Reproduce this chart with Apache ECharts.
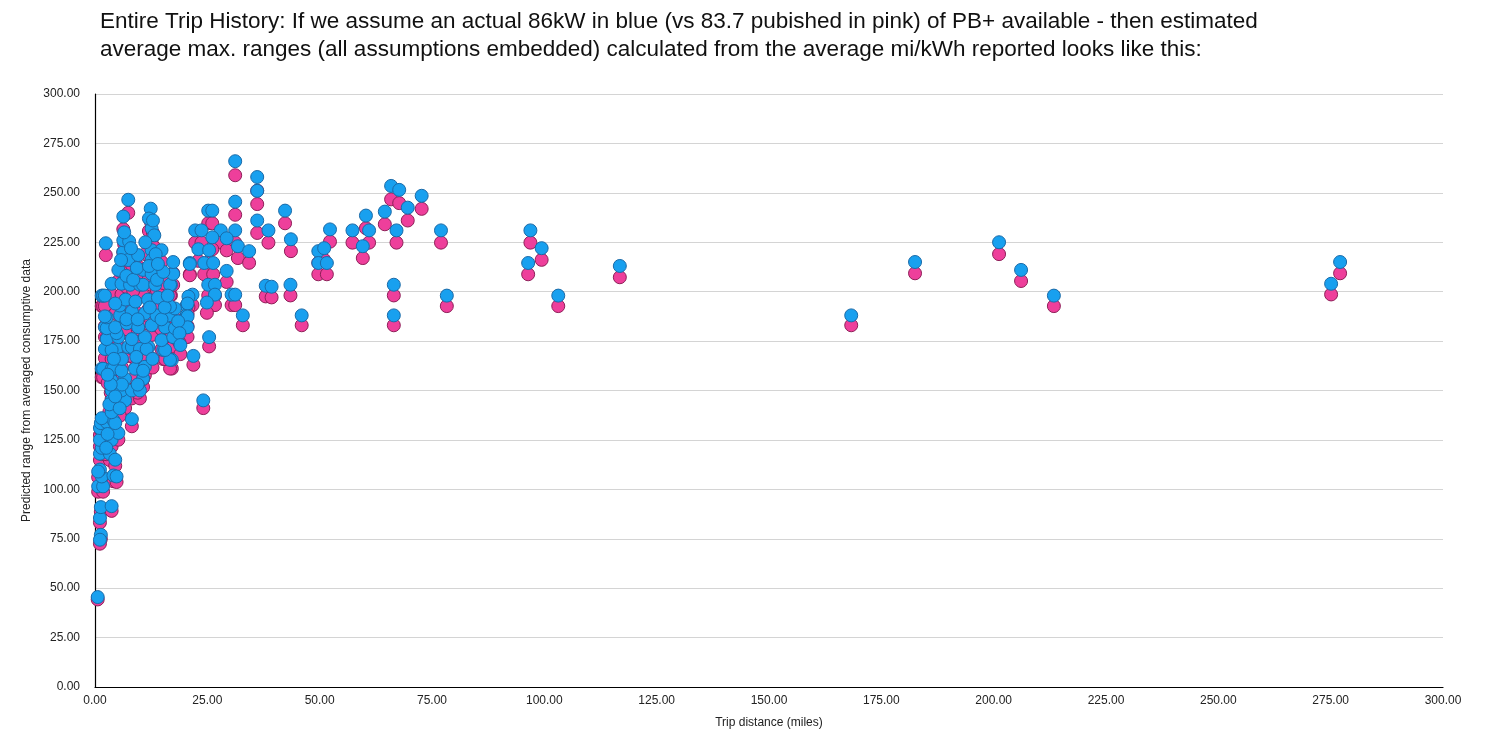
<!DOCTYPE html>
<html>
<head>
<meta charset="utf-8">
<script src="https://cdn.jsdelivr.net/npm/echarts@6/dist/echarts.min.js"></script>
<style>
html,body{margin:0;padding:0;background:#fff;}
#chart{width:1496px;height:742px;}
</style>
</head>
<body>
<div id="chart"></div>
<script>
const titleLines = [
  "Entire Trip History: If we assume an actual 86kW in blue (vs 83.7 pubished in pink) of PB+ available - then estimated",
  "average max. ranges (all assumptions embedded) calculated from the average mi/kWh reported looks like this:"
];
const xAxisName = "Trip distance (miles)";
const yAxisName = "Predicted range from averaged consumptive data";
const seriesNames = ["86kW (blue)", "83.7kW (pink)"];

const tripDistance = [
31.2,36.1,36.1,31.2,42.3,25.2,26.1,36.1,38.6,31.2,22.3,23.7,28,43.6,52.3,57.3,60.3,61,59.6,49.7,
51,49.7,51.6,26.1,29.3,31.8,34.3,23,25.4,21.1,24.3,26.3,29.3,38,39.3,43.5,21.7,25.2,26.7,26.7,
24.9,30.4,31.2,20.4,20.4,32.9,46,20.4,25.4,21.9,24.1,65.9,67.7,64.5,69.6,72.7,67.1,77,66.5,66.5,
78.3,96.9,99.4,96.4,103.1,116.8,168.3,182.5,201.2,206.1,213.4,275.1,277.1,
0.6,1.3,1.1,1.1,1.3,3.7,0.7,1.8,1.5,1.1,0.7,4.1,4.8,1.1,3.3,1.5,1.1,3.7,1.1,3.3,
1.3,2.6,4.1,1.5,5.2,4.5,8.2,3.7,3.7,6.7,3.7,5.9,8.2,10,3.7,6.7,10.7,1.5,1.8,3.7,
4.1,5.9,8.9,11.1,10.7,17.1,16.7,2.2,4.8,3.7,7.4,8.2,10,11.9,11.5,15.2,15.6,2.6,5.2,8.2,
11.1,14.8,17.4,4.8,2.2,2.6,4.5,7.1,9.6,12.6,15.6,17.8,2.6,2.2,5.6,8.2,11.1,13.7,16.3,17.8,
16.7,1.5,1.8,2.2,20.8,3.7,5.9,7.8,10,10.7,13.4,16.9,16.7,5.2,10.7,12.6,17.4,6.3,7.4,9.6,
12.6,12.6,14.8,17.4,2.4,6.3,7.6,12.6,13.2,6.3,12.4,7.4,20.6,21.1,20.6,20.6,
5.5,6.8,9,11.8,14,4.5,7,8.5,9.3,12,13.8,15.2,5.8,8,11.2,13.5,14,6.5,12,12.9,
7,9.5,12.2,14.8,6,9.2,12.8,4.2,3.2,5.5,4.5,6,9.5,3.5,2.8,15.5,16.2,18.5,18.8,19,
4.5,2.5,2.8
];

const rangeBlue = [
266,258,251,245.5,241,241,241,236,231,231,231,231,231,226.5,231.5,231,238.5,231,223,220.5,
222,214.5,214.5,227.5,227,223,220.5,221.5,221,214.5,214.5,214.5,210.5,203,202.5,203.5,198.5,203.5,203.5,198.5,
194.5,198.5,198.5,193,188,188,188,182,177,167.5,145,253.5,251.5,240.5,242.5,248.5,231,231,203.5,188,
198,231,222,214.5,198,213,188,215,225,211,198,204,215,
45.5,77,74.5,85.5,91,91.5,101.5,101.5,106.5,110,109,107,106.5,118,118,121,125,125,131,131.5,
133.5,134,135,136,128.5,133.5,135.5,139,145,145,150,150,150,150,155,156,156,161,161,161,
161,160,161,162,160,165.5,165.5,171,171,170.5,172,172,171,172,171,170.5,170.5,176,177,176,
177,175.5,177,179,182,181.5,182,184,182,183,182,181.5,187,187.5,188,190,189,188,188,191.5,
192.5,198,198,198,197.5,204,204,203.5,203.5,203.5,203.5,203.5,203.5,211,211,209,209,220,216,218.5,
221,216,221,215,224.5,226,225.5,232,228.5,238,242,246.5,194,214,187.5,182,
193,196,195,196,197,194,208,206,212,213,206,210,216,222,225,219,214,230,237,236,
186,186,192,186,166,167,166,166,143,141,147,153,153,153,158,192,198,185,179,173,
115,121,128
];

const rangePink = [
258.9,251.1,244.3,238.9,234.6,234.6,234.6,229.7,224.8,224.8,224.8,224.8,224.8,220.5,225.3,224.8,232.1,224.8,217.0,214.6,
216.1,208.8,208.8,221.4,220.9,217.0,214.6,215.6,215.1,208.8,208.8,208.8,204.9,197.6,197.1,198.1,193.2,198.1,198.1,193.2,
189.3,193.2,193.2,187.8,183.0,183.0,183.0,177.1,172.3,163.0,141.1,246.7,244.8,234.1,236.0,241.9,224.8,224.8,198.1,183.0,
192.7,224.8,216.1,208.8,192.7,207.3,183.0,209.3,219.0,205.4,192.7,198.6,209.3,
44.3,74.9,72.5,83.2,88.6,89.1,98.8,98.8,103.7,107.1,106.1,104.1,103.7,114.8,114.8,117.8,121.7,121.7,127.5,128.0,
129.9,130.4,131.4,132.4,125.1,129.9,131.9,135.3,141.1,141.1,146.0,146.0,146.0,146.0,150.9,151.8,151.8,156.7,156.7,156.7,
156.7,155.7,156.7,157.7,155.7,161.1,161.1,166.4,166.4,165.9,167.4,167.4,166.4,167.4,166.4,165.9,165.9,171.3,172.3,171.3,
172.3,170.8,172.3,174.2,177.1,176.7,177.1,179.1,177.1,178.1,177.1,176.7,182.0,182.5,183.0,184.9,184.0,183.0,183.0,186.4,
187.4,192.7,192.7,192.7,192.2,198.6,198.6,198.1,198.1,198.1,198.1,198.1,198.1,205.4,205.4,203.4,203.4,214.1,210.2,212.7,
215.1,210.2,215.1,209.3,218.5,220.0,219.5,225.8,222.4,231.6,235.5,239.9,188.8,208.3,182.5,177.1,
187.8,190.8,189.8,190.8,191.7,188.8,202.4,200.5,206.3,207.3,200.5,204.4,210.2,216.1,219.0,213.2,208.3,223.9,230.7,229.7,
181.0,181.0,186.9,181.0,161.6,162.5,161.6,161.6,139.2,137.2,143.1,148.9,148.9,148.9,153.8,186.9,192.7,180.1,174.2,168.4,
111.9,117.8,124.6
];

const blueData = tripDistance.map((x, i) => [x, rangeBlue[i]]);
const pinkData = tripDistance.map((x, i) => [x, rangePink[i]]);

const chart = echarts.init(document.getElementById('chart'), null, {renderer: 'canvas'});
const fontFam = '"Liberation Sans", Arial, Helvetica, sans-serif';
chart.setOption({
  animation: false,
  backgroundColor: '#ffffff',
  title: {
    text: titleLines.join('\n'),
    left: 95,
    top: 3,
    textStyle: {fontFamily: fontFam, fontSize: 22.5, fontWeight: 'normal', color: '#111', lineHeight: 28}
  },
  grid: {left: 95, right: 53, top: 94, bottom: 55, containLabel: false},
  xAxis: {
    type: 'value', min: 0, max: 300, interval: 25,
    name: xAxisName, nameLocation: 'middle', nameGap: 30,
    nameTextStyle: {fontFamily: fontFam, fontSize: 12, color: '#222'},
    axisLine: {show: true, lineStyle: {color: '#000', width: 1.2}},
    axisTick: {show: false},
    splitLine: {show: false},
    axisLabel: {fontFamily: fontFam, fontSize: 12, color: '#222', margin: 8,
      formatter: v => v.toFixed(2)}
  },
  yAxis: {
    type: 'value', min: 0, max: 300, interval: 25,
    name: yAxisName, nameLocation: 'middle', nameGap: 60, nameRotate: 90,
    nameTextStyle: {fontFamily: fontFam, fontSize: 12, color: '#222'},
    axisLine: {show: true, lineStyle: {color: '#000', width: 1.2}},
    axisTick: {show: false},
    splitLine: {show: true, lineStyle: {color: '#d4d4d4', width: 1}},
    axisLabel: {fontFamily: fontFam, fontSize: 12, color: '#222', margin: 15,
      formatter: v => v.toFixed(2)}
  },
  series: [
    {
      name: seriesNames[0], type: 'scatter', data: blueData, symbolSize: 13, z: 2,
      itemStyle: {color: '#18a0ef', borderColor: '#1a6aa8', borderWidth: 1, opacity: 1}
    },
    {
      name: seriesNames[1], type: 'scatter', data: pinkData, symbolSize: 13, z: 1,
      itemStyle: {color: '#ee3f9b', borderColor: '#8e1f58', borderWidth: 1, opacity: 1}
    }
  ]
});
</script>
</body>
</html>
